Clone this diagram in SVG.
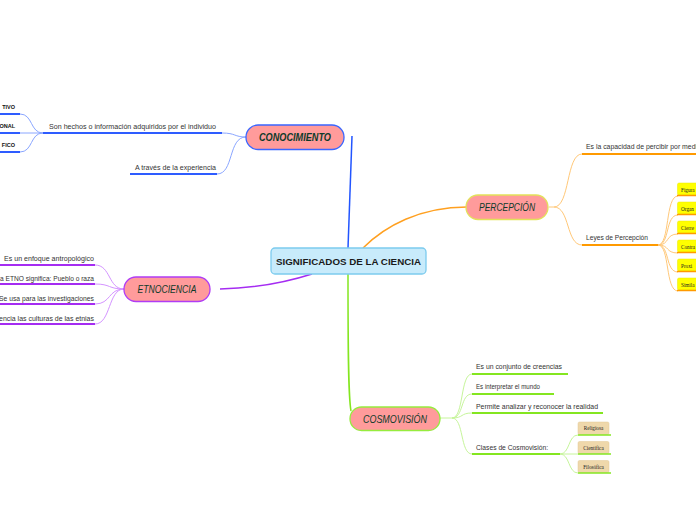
<svg xmlns="http://www.w3.org/2000/svg" width="696" height="520" viewBox="0 0 696 520">
<style>
.node{fill:#ff9b9b;stroke-width:1.3}
.nt{font-family:"Liberation Sans",Arial,sans-serif;font-size:10px;font-style:italic;fill:#0d3a2a;text-anchor:middle}
.t{font-family:"Liberation Sans",Arial,sans-serif;font-size:7px;fill:#333}
.tb{font-family:"Liberation Sans",Arial,sans-serif;font-size:5.5px;font-weight:bold;fill:#111;text-anchor:end}
.ts{font-family:"Liberation Serif","Times New Roman",serif;font-size:5.2px;fill:#222}
.c{fill:none}
.blue{stroke:#2e5cff;stroke-width:2}
.blueT{stroke:#8aa6ff;stroke-width:1}
.org{stroke:#ff9a00;stroke-width:2}
.orgT{stroke:#ffc878;stroke-width:1}
.pur{stroke:#a52cf2;stroke-width:2}
.purT{stroke:#d494ff;stroke-width:1}
.grn{stroke:#84e620;stroke-width:2}
.grnT{stroke:#c6f59a;stroke-width:1}
.yb{fill:#ffff00;stroke:#e8e800;stroke-width:0.5}
.tan{fill:#efd8ab;stroke:#e3c994;stroke-width:0.5}
</style>

<g id="connectors">
  <!-- main branches -->
  <path class="c" d="M348,248 L352,136" stroke="#2255ff" stroke-width="1.5"/>
  <path class="c" d="M363,248 C385,226 420,207 467,207" stroke="#ffa020" stroke-width="1.5"/>
  <path class="c" d="M312,274 Q268,288 220,289" stroke="#a52cf2" stroke-width="1.5"/>
  <path class="c" d="M348,274 C348,340 348,395 351,411" stroke="#84e620" stroke-width="1.5"/>

  <!-- conocimiento -->
  <path class="c blue" d="M43,133 L222,133"/>
  <path class="c blue" d="M130,174 L217,174"/>
  <path class="c blueT" d="M222,133 C236,133 234,137 246,137"/>
  <path class="c blueT" d="M217,174 C234,174 228,137 246,137"/>
  <path class="c blue" d="M-2,114 L20,114"/>
  <path class="c blue" d="M-2,133 L20,133"/>
  <path class="c blue" d="M-2,152 L20,152"/>
  <path class="c blueT" d="M20,114 C33,114 30,133 43,133"/>
  <path class="c blueT" d="M20,133 L43,133"/>
  <path class="c blueT" d="M20,152 C33,152 30,133 43,133"/>

  <!-- percepcion -->
  <path class="c orgT" d="M549,207 L554,207"/>
  <path class="c orgT" d="M554,207 C570,207 566,154 582,154"/>
  <path class="c orgT" d="M554,207 C570,207 566,245 582,245"/>
  <path class="c org" d="M582,154 L698,154"/>
  <path class="c org" d="M582,245 L658,245"/>
  <path class="c orgT" d="M658,245 C670,245 665,196 678,196"/>
  <path class="c orgT" d="M658,245 C670,245 665,215 678,215"/>
  <path class="c orgT" d="M658,245 C670,245 665,234 678,234"/>
  <path class="c orgT" d="M658,245 C670,245 665,253 678,253"/>
  <path class="c orgT" d="M658,245 C670,245 665,272 678,272"/>
  <path class="c orgT" d="M658,245 C670,245 665,291 678,291"/>

  <!-- etnociencia -->
  <path class="c pur" d="M-2,265 L95,265"/>
  <path class="c pur" d="M-2,284 L95,284"/>
  <path class="c pur" d="M-2,304 L95,304"/>
  <path class="c pur" d="M-2,324 L95,324"/>
  <path class="c purT" d="M124,289 C108,289 111,265 95,265"/>
  <path class="c purT" d="M124,289 C108,289 111,284 95,284"/>
  <path class="c purT" d="M124,289 C108,289 111,304 95,304"/>
  <path class="c purT" d="M124,289 C108,289 111,324 95,324"/>

  <!-- cosmovision -->
  <path class="c grnT" d="M440,418 L452,418"/>
  <path class="c grnT" d="M452,418 C464,418 460,374 472,374"/>
  <path class="c grnT" d="M452,418 C464,418 460,394 472,394"/>
  <path class="c grnT" d="M452,418 C464,418 460,413 472,413"/>
  <path class="c grnT" d="M452,418 C464,418 460,454 472,454"/>
  <path class="c grn" d="M472,374 L568,374"/>
  <path class="c grn" d="M472,394 L554,394"/>
  <path class="c grn" d="M472,413 L603,413"/>
  <path class="c grn" d="M472,454 L560,454"/>
  <path class="c grnT" d="M560,454 C570,454 568,435 578,435"/>
  <path class="c grnT" d="M560,454 L578,454"/>
  <path class="c grnT" d="M560,454 C570,454 568,473 578,473"/>
</g>

<g id="center">
  <rect x="271" y="248" width="155" height="26" rx="4" fill="#c8ebfb" stroke="#7ccbee" stroke-width="1.3"/>
  <text x="348.5" y="264.5" font-family="Liberation Sans,Arial,sans-serif" font-size="9.5" font-weight="bold" fill="#1a1a1a" text-anchor="middle" textLength="145" lengthAdjust="spacingAndGlyphs">SIGNIFICADOS DE LA CIENCIA</text>
</g>

<g id="conocimiento">
  <rect class="node" x="246" y="125" width="98" height="24.5" rx="12" stroke="#3a66ff"/>
  <text class="nt" x="295" y="141" font-weight="bold" textLength="72" lengthAdjust="spacingAndGlyphs">CONOCIMIENTO</text>
</g>
<g id="con-hechos"><text class="t" x="49" y="128.5" textLength="167" lengthAdjust="spacingAndGlyphs">Son hechos o información adquiridos por el individuo</text></g>
<g id="con-experiencia"><text class="t" x="135" y="170" textLength="81" lengthAdjust="spacingAndGlyphs">A través de la experiencia</text></g>
<g id="con-tivo"><text class="tb" x="15" y="109">TIVO</text></g>
<g id="con-onal"><text class="tb" x="15" y="128">ONAL</text></g>
<g id="con-fico"><text class="tb" x="15" y="147">FICO</text></g>

<g id="percepcion">
  <rect class="node" x="466" y="195" width="82" height="24.5" rx="12" stroke="#e2e25a"/>
  <text class="nt" x="507" y="211" textLength="56" lengthAdjust="spacingAndGlyphs">PERCEPCIÓN</text>
</g>
<g id="per-capacidad"><text class="t" x="586" y="148.5" textLength="111" lengthAdjust="spacingAndGlyphs">Es la capacidad de percibir por medi</text></g>
<g id="per-leyes"><text class="t" x="586" y="240" textLength="62" lengthAdjust="spacingAndGlyphs">Leyes de Percepción</text></g>
<g id="ley-1"><rect class="yb" x="677.5" y="183" width="24" height="12" rx="1.5"/><path class="c" d="M677,195.5 L700,195.5" stroke="#ff9a00" stroke-width="1.5"/><text class="ts" x="681" y="191.5">Figura</text></g>
<g id="ley-2"><rect class="yb" x="677.5" y="202" width="24" height="12" rx="1.5"/><path class="c" d="M677,214.5 L700,214.5" stroke="#ff9a00" stroke-width="1.5"/><text class="ts" x="681" y="210.5">Organ</text></g>
<g id="ley-3"><rect class="yb" x="677.5" y="221" width="24" height="12" rx="1.5"/><path class="c" d="M677,233.5 L700,233.5" stroke="#ff9a00" stroke-width="1.5"/><text class="ts" x="681" y="229.5">Cierre</text></g>
<g id="ley-4"><rect class="yb" x="677.5" y="240" width="24" height="12" rx="1.5"/><path class="c" d="M677,252.5 L700,252.5" stroke="#ff9a00" stroke-width="1.5"/><text class="ts" x="681" y="248.5">Contra</text></g>
<g id="ley-5"><rect class="yb" x="677.5" y="259" width="24" height="12" rx="1.5"/><path class="c" d="M677,271.5 L700,271.5" stroke="#ff9a00" stroke-width="1.5"/><text class="ts" x="681" y="267.5">Proxi</text></g>
<g id="ley-6"><rect class="yb" x="677.5" y="278" width="24" height="12" rx="1.5"/><path class="c" d="M677,290.5 L700,290.5" stroke="#ff9a00" stroke-width="1.5"/><text class="ts" x="681" y="286.5">Simila</text></g>

<g id="etnociencia">
  <rect class="node" x="124" y="277" width="86" height="24.5" rx="12" stroke="#b03cf5"/>
  <text class="nt" x="167" y="293" textLength="59" lengthAdjust="spacingAndGlyphs">ETNOCIENCIA</text>
</g>
<g id="etn-1"><text class="t" x="4" y="261" textLength="90" lengthAdjust="spacingAndGlyphs">Es un enfoque antropológico</text></g>
<g id="etn-2"><text class="t" x="0" y="280.5" textLength="94" lengthAdjust="spacingAndGlyphs">a ETNO significa: Pueblo o raza</text></g>
<g id="etn-3"><text class="t" x="-1" y="300.5" textLength="95" lengthAdjust="spacingAndGlyphs">Se usa para las investigaciones</text></g>
<g id="etn-4"><text class="t" x="-1" y="320.5" textLength="95" lengthAdjust="spacingAndGlyphs">encia las culturas de las etnias</text></g>

<g id="cosmovision">
  <rect class="node" x="350" y="407" width="90" height="23.5" rx="11.5" stroke="#96ec3e"/>
  <text class="nt" x="395" y="422.5" textLength="64" lengthAdjust="spacingAndGlyphs">COSMOVISIÓN</text>
</g>
<g id="cos-1"><text class="t" x="476" y="368.5" textLength="86" lengthAdjust="spacingAndGlyphs">Es un conjunto de creencias</text></g>
<g id="cos-2"><text class="t" x="476" y="388.5" textLength="64" lengthAdjust="spacingAndGlyphs">Es interpretar el mundo</text></g>
<g id="cos-3"><text class="t" x="476" y="408.5" textLength="122" lengthAdjust="spacingAndGlyphs">Permite analizar y reconocer la realidad</text></g>
<g id="cos-4"><text class="t" x="476" y="450" textLength="72" lengthAdjust="spacingAndGlyphs">Clases de Cosmovisión:</text></g>
<g id="clase-1"><rect class="tan" x="578" y="422" width="31" height="12.5" rx="1.5"/><path class="c" d="M578,435 L611,435" stroke="#84e620" stroke-width="1.5"/><text class="ts" x="593.5" y="430" text-anchor="middle">Religiosa</text></g>
<g id="clase-2"><rect class="tan" x="578" y="441.5" width="31" height="12" rx="1.5"/><path class="c" d="M578,454 L611,454" stroke="#84e620" stroke-width="1.5"/><text class="ts" x="593.5" y="449.5" text-anchor="middle">Científica</text></g>
<g id="clase-3"><rect class="tan" x="578" y="460.5" width="31" height="12" rx="1.5"/><path class="c" d="M578,473 L611,473" stroke="#84e620" stroke-width="1.5"/><text class="ts" x="593.5" y="468.5" text-anchor="middle">Filosófica</text></g>
</svg>
